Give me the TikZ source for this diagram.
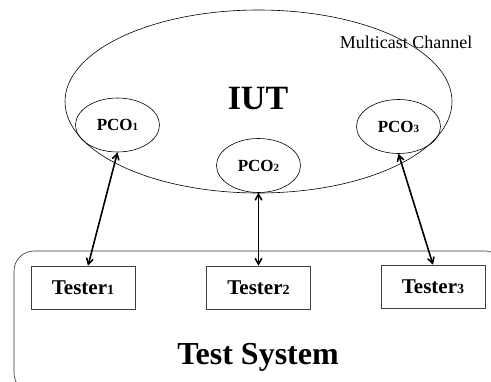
\documentclass[tikz,border=0pt]{standalone}
\usepackage{fontspec}
\setmainfont{Liberation Serif}
\usetikzlibrary{arrows,positioning,shapes.geometric}
\tikzstyle{pco}=[ellipse,draw,inner sep=0pt,minimum width=84pt,minimum height=54pt,font=\fontsize{17}{17}\selectfont\bfseries]
\tikzstyle{tester}=[rectangle,draw=black!75,inner sep=0pt,minimum width=104pt,minimum height=43pt,font=\fontsize{21}{21}\selectfont\bfseries]
\newcommand{\lowdigit}[2]{{\fontsize{#1}{#1}\selectfont #2}}

\begin{document}
\begin{tikzpicture}[x=1pt,y=-1pt,line width=0.6pt]
\useasboundingbox (0,0) rectangle (491,381);
\begin{scope}
\clip (0,0) rectangle (491,381);
\node[draw=black!80,rounded corners=20pt,minimum width=491pt,minimum height=142pt] (sys) at (259.5,322) {};
\end{scope}
\node[ellipse,draw,minimum width=387pt,minimum height=183pt] (chan) at (258.5,101.5) {};
\node[font=\fontsize{18}{18}\selectfont] (mc) at (406,42) {Multicast Channel};
\node[font=\fontsize{34}{34}\selectfont\bfseries] (iut) at (258,99) {IUT};
\node[pco] (P1) at (117.5,125) {PCO\lowdigit{11}{1}};
\node[pco] (P2) at (258.5,165.5) {PCO\lowdigit{11}{2}};
\node[pco] (P3) at (398.5,126.5) {PCO\lowdigit{11}{3}};
\node[tester] (T1) at (83,287.5) {Tester\lowdigit{14}{1}};
\node[tester] (T2) at (258.5,287.5) {Tester\lowdigit{14}{2}};
\node[tester] (T3) at (433,286.5) {Tester\lowdigit{14}{3}};
\node[font=\fontsize{32}{32}\selectfont\bfseries] (ts) at (258,357) {Test System};
\path[<->,line width=1.6pt,>=angle 60]
(P1.south) edge ([xshift=5pt]T1.north)
(P2.south) edge (T2.north)
(P3.south) edge (T3.north);
\end{tikzpicture}
\end{document}
